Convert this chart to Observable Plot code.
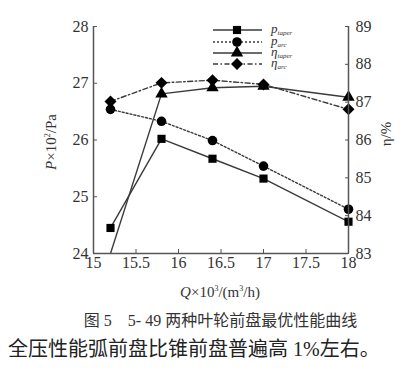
<!DOCTYPE html>
<html><head><meta charset="utf-8">
<script src="https://cdn.jsdelivr.net/npm/d3@7"></script>
<script src="https://cdn.jsdelivr.net/npm/@observablehq/plot@0.6"></script>
<style>
body{margin:0;background:#fff;}
#wrap{position:relative;width:413px;height:305px;}
#wrap svg{position:absolute;left:0;top:0;}
.cap{font-family:"Liberation Serif","Noto Sans CJK SC";color:#333;white-space:pre;}
</style></head>
<body>
<div id="wrap"></div>
<div class="cap" style="font-size:16px;text-align:center;padding-left:28px;margin-top:6px;line-height:20px;">图 5    5- 49 两种叶轮前盘最优性能曲线</div>
<div class="cap" style="font-size:20px;padding-left:8px;margin-top:5px;line-height:26px;color:#222;">全压性能弧前盘比锥前盘普遍高 1%左右。</div>
<script>
const Q = [15.2, 15.8, 16.4, 17, 18];
const pTaper = [24.45, 26.02, 25.67, 25.32, 24.56];
const pArc = [26.54, 26.33, 25.99, 25.54, 24.78];
const etaTaper = [83.0, 87.22, 87.38, 87.42, 87.13];
const etaArc = [87.02, 87.51, 87.58, 87.47, 86.81];
const xTicks = [15, 15.5, 16, 16.5, 17, 17.5, 18];
const yLeftTicks = [24, 25, 26, 27, 28];
const yRightTicks = [83, 84, 85, 86, 87, 88, 89];
const seriesNames = ["p_taper", "p_arc", "η_taper", "η_arc"];

const leftDom = [24, 28], rightDom = [83, 89];
const toLeft = e => leftDom[0] + (e - rightDom[0]) * (leftDom[1] - leftDom[0]) / (rightDom[1] - rightDom[0]);

const mk = (vals, f) => Q.map((q, i) => ({q, v: f ? f(vals[i]) : vals[i], raw: vals[i]}));
const dPT = mk(pTaper), dPA = mk(pArc), dET = mk(etaTaper, toLeft), dEA = mk(etaArc, toLeft);

const lineC = "#3a3a3a", font = "Liberation Serif";
const styles = [
  {data: dPT, dash: null, sym: "square", r: 4.6},
  {data: dPA, dash: "2,2", sym: "circle", r: 4.8},
  {data: dET, dash: null, sym: "triangle", r: 4.6},
  {data: dEA, dash: "5,2.5,1.5,2.5", sym: "diamond2", r: 5.4}
];

const marks = [];
styles.forEach(s => {
  marks.push(Plot.line(s.data, {x: "q", y: "v", stroke: lineC, strokeWidth: 1.4, strokeDasharray: s.dash, clip: true}));
});
styles.forEach(s => {
  marks.push(Plot.dot(s.data.filter(d => d.v > leftDom[0] + 0.01), {x: "q", y: "v", symbol: () => s.sym, fill: "#000", stroke: "none", r: s.r}));
});
marks.push(Plot.ruleY([leftDom[0]], {stroke: "#555", strokeWidth: 1.5}));
marks.push(Plot.ruleX([15, 18], {stroke: "#555", strokeWidth: 1.5}));
marks.push(Plot.axisX({ticks: xTicks, tickSize: -4, tickPadding: 7, fontSize: 16, fontFamily: font, stroke: "#555", label: null, tickFormat: d => String(d), fill: "#333"}));
marks.push(Plot.axisY({anchor: "left", ticks: yLeftTicks, tickSize: -4, tickPadding: 9, fontSize: 16, fontFamily: font, stroke: "#555", label: null, tickFormat: d => String(d), fill: "#333"}));
marks.push(Plot.axisY({anchor: "right", ticks: yRightTicks.map(toLeft), tickFormat: (d, i) => String(yRightTicks[i]), tickSize: -4, tickPadding: 11, fontSize: 16, fontFamily: font, stroke: "#555", label: null, fill: "#333"}));

const chart = Plot.plot({
  width: 413, height: 305,
  marginLeft: 93, marginRight: 65, marginTop: 26, marginBottom: 52,
  x: {domain: [15, 18]},
  y: {domain: leftDom},
  style: {background: "transparent"},
  marks
});
document.getElementById("wrap").appendChild(chart);

// overlay: legend + axis titles
const ov = d3.select("#wrap").append("svg").attr("width", 413).attr("height", 305).style("pointer-events", "none");
const symMap = {square: d3.symbolSquare, circle: d3.symbolCircle, triangle: d3.symbolTriangle, diamond2: d3.symbolDiamond2};
const legY = [30, 42, 53, 64];
const labs = [["p", "taper"], ["p", "arc"], ["η", "taper"], ["η", "arc"]];
styles.forEach((s, i) => {
  const y = legY[i];
  ov.append("line").attr("x1", 213).attr("x2", 262).attr("y1", y).attr("y2", y)
    .attr("stroke", lineC).attr("stroke-width", 1.4).attr("stroke-dasharray", s.dash);
  ov.append("path").attr("transform", `translate(237,${y})`)
    .attr("d", d3.symbol(symMap[s.sym], Math.PI * s.r * s.r)()).attr("fill", "#000");
  const t = ov.append("text").attr("x", 271).attr("y", y + 3).attr("font-family", font).attr("fill", "#333").attr("font-style", "italic");
  t.append("tspan").attr("font-size", 13).text(labs[i][0]);
  t.append("tspan").attr("font-size", 7).attr("dy", 1.5).text(labs[i][1]);
});
// left title
const lt = ov.append("text").attr("transform", "translate(56,142) rotate(-90)").attr("text-anchor", "middle")
  .attr("font-family", font).attr("font-size", 15).attr("fill", "#333");
lt.append("tspan").attr("font-style", "italic").text("P");
lt.append("tspan").text("×10");
lt.append("tspan").attr("font-size", 8).attr("dy", -6).text("2");
lt.append("tspan").attr("dy", 6).text("/Pa");
// right title
ov.append("text").attr("transform", "translate(391,134) rotate(-90)").attr("text-anchor", "middle")
  .attr("font-family", font).attr("font-size", 15).attr("fill", "#333").text("η/%");
// x title
const xt = ov.append("text").attr("x", 220).attr("y", 297).attr("text-anchor", "middle")
  .attr("font-family", font).attr("font-size", 15).attr("fill", "#333");
xt.append("tspan").attr("font-style", "italic").text("Q");
xt.append("tspan").text("×10");
xt.append("tspan").attr("font-size", 8).attr("dy", -6).text("3");
xt.append("tspan").attr("dy", 6).text("/(m");
xt.append("tspan").attr("font-size", 8).attr("dy", -6).text("3");
xt.append("tspan").attr("dy", 6).text("/h)");
</script>
</body></html>
